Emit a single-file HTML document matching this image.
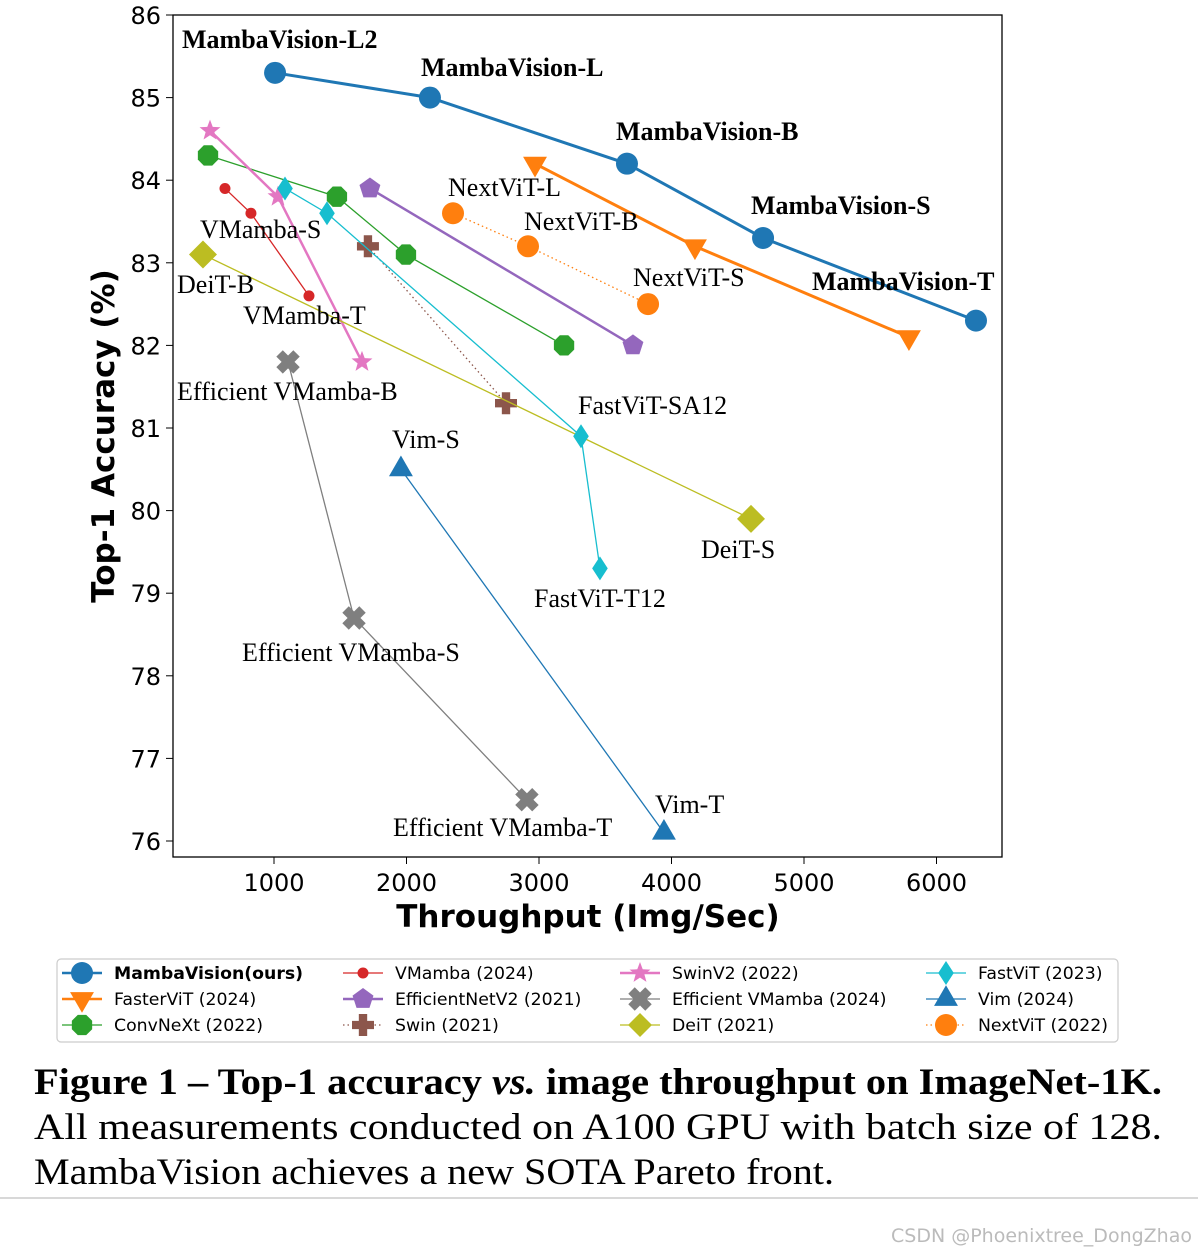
<!DOCTYPE html>
<html><head><meta charset="utf-8"><style>
body{margin:0;background:#fff;width:1198px;height:1254px;overflow:hidden}
svg{display:block}
.t{font-family:"Liberation Serif",serif;font-size:26px;fill:#000}
.b{font-weight:bold}
.tick{font-family:"DejaVu Sans",sans-serif;font-size:24px}
.lg{font-family:"DejaVu Sans",sans-serif;font-size:17.3px}
</style></head><body>
<svg id="c" width="1198" height="1254" xmlns="http://www.w3.org/2000/svg"></svg>
<script>
const xTicks=[1000,2000,3000,4000,5000,6000];
const yTicks=[76,77,78,79,80,81,82,83,84,85,86];
const seriesNames=["MambaVision(ours)","FasterViT (2024)","ConvNeXt (2022)","VMamba (2024)","EfficientNetV2 (2021)","Swin (2021)","SwinV2 (2022)","Efficient VMamba (2024)","DeiT (2021)","FastViT (2023)","Vim (2024)","NextViT (2022)"];
const mambaX=[1008,2177,3664,4691,6298], mambaY=[85.3,85.0,84.2,83.3,82.3];
const fasterX=[2970,4177,5792], fasterY=[84.2,83.2,82.1];
const convX=[502,1475,1996,3189], convY=[84.3,83.8,83.1,82.0];
const vmambaX=[630,826,1264], vmambaY=[83.9,83.6,82.6];
const effnetX=[1724,3709], effnetY=[83.9,82.0];
const swinX=[1709,2751], swinY=[83.2,81.3];
const swin2X=[517,1030,1664], swin2Y=[84.6,83.8,81.8];
const effvmX=[1106,1604,2909], effvmY=[81.8,78.7,76.5];
const deitX=[464,4600], deitY=[83.1,79.9];
const fastX=[1083,1400,3317,3460], fastY=[83.9,83.6,80.9,79.3];
const vimX=[1958,3943], vimY=[80.5,76.1];
const nextX=[2351,2917,3823], nextY=[83.6,83.2,82.5];

const svg=document.getElementById('c');const NS="http://www.w3.org/2000/svg";
const X=v=>141.5+v*0.1325, Y=v=>15+(86-v)*82.6;
function mk(tag,at,parent){const e=document.createElementNS(NS,tag);for(const k in at)e.setAttribute(k,at[k]);(parent||svg).appendChild(e);return e;}
function poly(n,r,rot){let p=[];for(let i=0;i<n;i++){const a=rot+i*2*Math.PI/n;p.push((r*Math.cos(a)).toFixed(2)+','+(r*Math.sin(a)).toFixed(2));}return p.join(' ');}
function marker(g,shape,cx,cy,col,s){let e;
 if(shape=='o')e=mk('circle',{cx,cy,r:s,fill:col},g);
 else if(shape=='v')e=mk('polygon',{points:poly(3,s*1.15,Math.PI/2),fill:col,transform:`translate(${cx},${cy})`},g);
 else if(shape=='^')e=mk('polygon',{points:poly(3,s*1.15,-Math.PI/2),fill:col,transform:`translate(${cx},${cy})`},g);
 else if(shape=='8')e=mk('polygon',{points:poly(8,s,Math.PI/8),fill:col,transform:`translate(${cx},${cy})`},g);
 else if(shape=='p')e=mk('polygon',{points:poly(5,s,-Math.PI/2),fill:col,transform:`translate(${cx},${cy})`},g);
 else if(shape=='D')e=mk('polygon',{points:`0,${-s} ${s},0 0,${s} ${-s},0`,fill:col,transform:`translate(${cx},${cy})`},g);
 else if(shape=='d')e=mk('polygon',{points:`0,${-s} ${s*0.65},0 0,${s} ${-s*0.65},0`,fill:col,transform:`translate(${cx},${cy})`},g);
 else if(shape=='*'){let p=[];for(let i=0;i<10;i++){const a=-Math.PI/2+i*Math.PI/5,r=i%2?s*0.42:s;p.push((r*Math.cos(a)).toFixed(2)+','+(r*Math.sin(a)).toFixed(2));}e=mk('polygon',{points:p.join(' '),fill:col,transform:`translate(${cx},${cy})`},g);}
 else if(shape=='P'){const w=s*0.38;e=mk('path',{d:`M${-w},${-s}H${w}V${-w}H${s}V${w}H${w}V${s}H${-w}V${w}H${-s}V${-w}H${-w}Z`,fill:col,transform:`translate(${cx},${cy})`},g);}
 else if(shape=='X'){const w=s*0.38;e=mk('path',{d:`M${-w},${-s}H${w}V${-w}H${s}V${w}H${w}V${s}H${-w}V${w}H${-s}V${-w}H${-w}Z`,fill:col,transform:`translate(${cx},${cy}) rotate(45)`},g);}
 return e;}
const series=[
 [mambaX,mambaY,'#1f77b4','o',11,3,''],
 [fasterX,fasterY,'#ff7f0e','v',12,3,''],
 [convX,convY,'#2ca02c','8',11,1.3,''],
 [vmambaX,vmambaY,'#d62728','o',5.5,1.3,''],
 [effnetX,effnetY,'#9467bd','p',11,2.5,''],
 [swinX,swinY,'#8c564b','P',11,1.3,'1.5,3'],
 [swin2X,swin2Y,'#e377c2','*',11,2.5,''],
 [effvmX,effvmY,'#7f7f7f','X',12,1.3,''],
 [deitX,deitY,'#bcbd22','D',14,1.3,''],
 [fastX,fastY,'#17becf','d',12,1.3,''],
 [vimX,vimY,'#1f77b4','^',12,1.3,''],
 [nextX,nextY,'#ff7f0e','o',11,1.3,'1.5,3']];
mk('rect',{x:173,y:15,width:829,height:842,fill:'none',stroke:'#000','stroke-width':1.3,});
xTicks.forEach(v=>{mk('line',{x1:X(v),x2:X(v),y1:857,y2:864,stroke:'#000'});const t=mk('text',{x:X(v),y:891,'text-anchor':'middle',class:'tick'});t.textContent=v;

});
yTicks.forEach(v=>{mk('line',{x1:166,x2:173,y1:Y(v),y2:Y(v),stroke:'#000'});const t=mk('text',{x:161,y:Y(v)+9,'text-anchor':'end',class:'tick'});t.textContent=v;

});
let t=mk('text',{x:588,y:927,'text-anchor':'middle',class:'tick',style:'font-weight:bold;font-size:31px'});t.textContent='Throughput (Img/Sec)';

t=mk('text',{x:0,y:0,'text-anchor':'middle',class:'tick',style:'font-weight:bold;font-size:31px',transform:'translate(114,436) rotate(-90)'});t.textContent='Top-1 Accuracy (%)';

series.forEach((s,i)=>{const g=mk('g',{});
 
 
 mk('polyline',{points:s[0].map((x,j)=>X(x)+','+Y(s[1][j])).join(' '),fill:'none',stroke:s[2],'stroke-width':s[5],'stroke-dasharray':s[6]},g);
 s[0].forEach((x,j)=>{const m=marker(g,s[3],X(x),Y(s[1][j]),s[2],s[4]);});
});
const labels=[["MambaVision-L2",182,48,1],["MambaVision-L",421,76,1],["MambaVision-B",616,140,1],["MambaVision-S",751,214,1],["MambaVision-T",812,290,1],
["NextViT-L",448,196,0],["NextViT-B",524,230,0],["NextViT-S",633,286,0],["VMamba-S",200,238,0],["DeiT-B",177,293,0],["VMamba-T",243,324,0],
["Efficient VMamba-B",177,400,0],["FastViT-SA12",578,414,0],["Vim-S",392,448,0],["DeiT-S",701,558,0],["FastViT-T12",534,607,0],
["Efficient VMamba-S",242,661,0],["Efficient VMamba-T",393,836,0],["Vim-T",655,813,0]];
labels.forEach(l=>{const e=mk('text',{x:l[1],y:l[2],class:'t'+(l[3]?' b':'')});e.textContent=l[0];
});
const lg=mk('g',{});
mk('rect',{x:57,y:959,width:1061,height:83,rx:4,fill:'#fff',stroke:'#ccc','stroke-width':1.2},lg);
const colX=[62,343,620,926];
series.forEach((s,i)=>{const cx=colX[Math.floor(i/3)],cy=973+(i%3)*26;
 const e=mk('g',{},lg);
 mk('line',{x1:cx,x2:cx+40,y1:cy,y2:cy,stroke:s[2],'stroke-width':Math.min(s[5],2.5),'stroke-dasharray':s[6]},e);
 marker(e,s[3],cx+20,cy,s[2],Math.min(s[4],12));
 const tx=mk('text',{x:cx+52,y:cy+6,class:'lg',style:i==0?'font-weight:bold':''},e);tx.textContent=seriesNames[i];});
const cap=[[1094,1],[1139,0],[1184,0]];
const capText=["All measurements conducted on A100 GPU with batch size of 128.","MambaVision achieves a new SOTA Pareto front."];
const c0=mk('text',{x:34,y:1094,class:'t',style:'font-size:37px;font-weight:bold',textLength:1128,lengthAdjust:'spacingAndGlyphs'});

c0.innerHTML='Figure 1 – Top-1 accuracy <tspan font-style="italic">vs.</tspan> image throughput on ImageNet-1K.';
capText.forEach((c,i)=>{const e=mk('text',{x:34,y:cap[i+1][0],class:'t',style:'font-size:37px',textLength:i==1?800:1128,lengthAdjust:'spacingAndGlyphs'});e.textContent=c;
});
mk('line',{x1:0,x2:1198,y1:1198,y2:1198,stroke:'#ccc','stroke-width':1.5});
t=mk('text',{x:1192,y:1242,'text-anchor':'end',class:'lg',style:'fill:#bbb;font-size:19px'});t.textContent='CSDN @Phoenixtree_DongZhao';

</script>
</body></html>
